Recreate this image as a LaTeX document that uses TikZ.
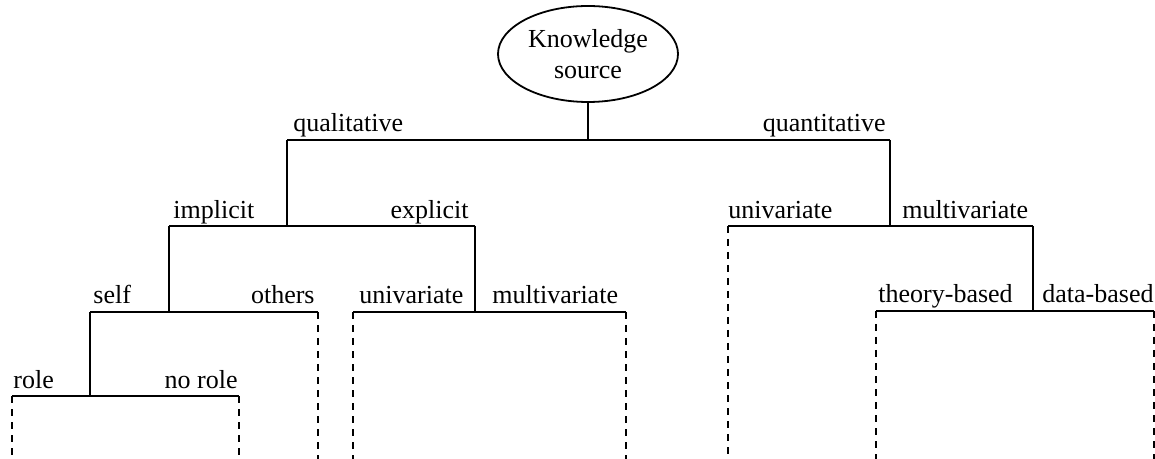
\documentclass[tikz,border=0pt]{standalone}
\usepackage{fontspec}
\setmainfont{Liberation Serif}
\usetikzlibrary{shapes.geometric}
\begin{document}
\begin{tikzpicture}[x=0.5pt,y=-0.5pt,
  solidline/.style={line width=0.9pt},
  dashline/.style={line width=0.9pt,dash pattern=on 3.5pt off 3pt},
  lbl/.style={anchor=base west,inner sep=0pt,font=\fontsize{13}{15.5}\selectfont},
  lblr/.style={anchor=base east,inner sep=0pt,font=\fontsize{13}{15.5}\selectfont},
  rootnode/.style={ellipse,draw,line width=0.9pt,minimum width=90pt,minimum height=48pt,inner sep=0pt,align=center,font=\fontsize{13}{15.5}\selectfont}]
\useasboundingbox (0,0) rectangle (1155,459);
\node[rootnode] (root) at (588,54) {Knowledge\\source};
% level 1
\coordinate (j0) at (588,140);
\coordinate (qualT) at (287,140);
\coordinate (quanT) at (890,140);
% qualitative
\coordinate (qualB) at (287,226);
\coordinate (implT) at (169,226);
\coordinate (explT) at (475,226);
% implicit
\coordinate (implB) at (169,312);
\coordinate (selfT) at (90,312);
\coordinate (othT) at (318,312);
\coordinate (othB) at (318,459);
% self
\coordinate (selfB) at (90,396);
\coordinate (roleT) at (12,396);
\coordinate (roleB) at (12,459);
\coordinate (noroleT) at (239,396);
\coordinate (noroleB) at (239,459);
% explicit
\coordinate (explB) at (475,312);
\coordinate (euniT) at (353,312);
\coordinate (euniB) at (353,459);
\coordinate (emulT) at (626,312);
\coordinate (emulB) at (626,459);
% quantitative
\coordinate (quanB) at (890,226);
\coordinate (quniT) at (728,226);
\coordinate (quniB) at (728,459);
\coordinate (qmulT) at (1033,226);
\coordinate (qmulB) at (1033,311);
\coordinate (theoT) at (876,311);
\coordinate (theoB) at (876,459);
\coordinate (dataT) at (1154,311);
\coordinate (dataB) at (1154,459);

\draw[solidline] (root.south) -- (j0);
\draw[solidline] (qualT) -- (quanT);
\draw[solidline] (qualT) -- (qualB);
\draw[solidline] (implT) -- (explT);
\draw[solidline] (implT) -- (implB);
\draw[solidline] (selfT) -- (othT);
\draw[solidline] (selfT) -- (selfB);
\draw[solidline] (roleT) -- (noroleT);
\draw[solidline] (explT) -- (explB);
\draw[solidline] (euniT) -- (emulT);
\draw[solidline] (quanT) -- (quanB);
\draw[solidline] (quniT) -- (qmulT);
\draw[solidline] (qmulT) -- (qmulB);
\draw[solidline] (theoT) -- (dataT);

\draw[dashline] (othT) -- (othB);
\draw[dashline] (roleT) -- (roleB);
\draw[dashline] (noroleT) -- (noroleB);
\draw[dashline] (euniT) -- (euniB);
\draw[dashline] (emulT) -- (emulB);
\draw[dashline] (quniT) -- (quniB);
\draw[dashline] (theoT) -- (theoB);
\draw[dashline] (dataT) -- (dataB);

\node[lbl] (lqual) at (293,132) {qualitative};
\node[lblr] (lquan) at (886,132) {quantitative};
\node[lbl] (limpl) at (173,219) {implicit};
\node[lblr] (lexpl) at (469,219) {explicit};
\node[lbl] (lquni) at (728,219) {univariate};
\node[lbl] (lqmul) at (902,219) {multivariate};
\node[lbl] (lself) at (93,304) {self};
\node[lblr] (loth) at (315,304) {others};
\node[lbl] (leuni) at (359,304) {univariate};
\node[lbl] (lemul) at (492,304) {multivariate};
\node[lbl] (ltheo) at (878,303) {theory-based};
\node[lbl] (ldata) at (1042,303) {data-based};
\node[lbl] (lrole) at (13,388) {role};
\node[lblr] (lnorole) at (238,388) {no role};
\end{tikzpicture}
\end{document}
